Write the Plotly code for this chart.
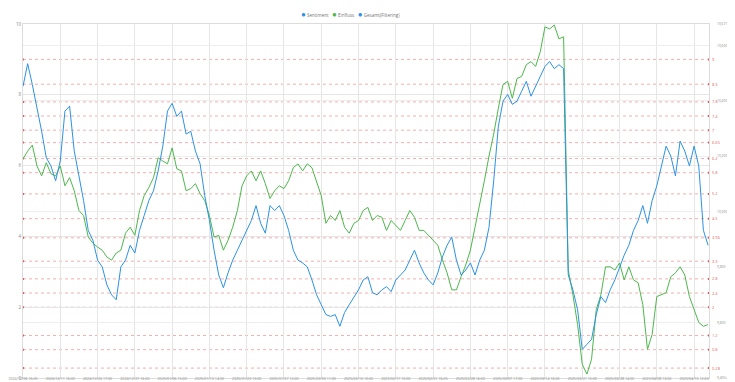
import plotly.graph_objects as go

tick_labels = ["2024/12/06 16:05", "2024/12/11 16:00", "2024/12/20 17:00", "2024/12/27 16:00",
               "2025/01/06 15:00", "2025/01/13 14:00", "2025/01/20 13:00", "2025/01/27 12:00",
               "2025/02/03 11:00", "2025/02/10 10:00", "2025/02/17 10:00", "2025/02/21 16:05",
               "2025/02/28 16:00", "2025/03/07 17:00", "2025/03/14 16:00", "2025/03/21 15:00",
               "2025/03/28 14:00", "2025/04/08 13:00", "2025/04/15 12:00"]
points_per_tick = 8

sentiment = [8.24, 8.88, 8.29, 7.68, 6.97, 6.22, 5.99, 5.57, 6.13, 7.54, 7.68, 6.41, 5.71, 5.01, 4.17, 3.89,
             3.33, 3.14, 2.63, 2.35, 2.21, 3.14, 3.33, 3.75, 3.53, 4.17, 4.59, 5.01, 5.29, 5.85, 6.55, 7.54,
             7.76, 7.39, 7.54, 6.89, 6.97, 6.41, 6.05, 5.15, 4.45, 3.61, 2.91, 2.55, 2.97, 3.33, 3.61, 3.89,
             4.17, 4.45, 4.87, 4.37, 4.09, 4.87, 4.73, 4.87, 4.59, 4.17, 3.61, 3.33, 3.25, 3.14, 2.77, 2.35,
             2.07, 1.79, 1.74, 1.79, 1.46, 1.85, 2.07, 2.30, 2.49, 2.77, 2.86, 2.41, 2.35, 2.49, 2.58, 2.44,
             2.77, 2.91, 3.05, 3.33, 3.61, 3.25, 2.97, 2.77, 2.63, 2.97, 3.42, 3.75, 3.98, 3.33, 2.91, 3.05,
             3.25, 2.91, 3.33, 3.61, 4.26, 5.57, 7.11, 7.82, 8.01, 7.73, 7.82, 8.10, 8.38, 7.96, 8.24, 8.52,
             8.80, 8.94, 8.74, 8.85, 8.74, 2.91, 2.49, 1.93, 0.81, 0.95, 1.09, 1.79, 2.30, 2.13, 2.49, 2.77,
             3.14, 3.47, 3.75, 4.17, 4.45, 4.87, 4.37, 5.01, 5.43, 5.99, 6.55, 6.27, 5.71, 6.69, 6.41, 5.99,
             6.55, 5.99, 4.17, 3.75]

einfluss = [6.19, 6.41, 6.58, 5.99, 5.71, 6.08, 5.77, 5.71, 5.99, 5.43, 5.66, 5.29, 4.73, 4.59, 3.98, 3.81,
            3.70, 3.61, 3.42, 3.33, 3.53, 3.61, 4.09, 4.26, 4.03, 4.73, 5.15, 5.38, 5.66, 6.22, 6.13, 6.05,
            6.50, 5.91, 5.85, 5.29, 5.35, 5.49, 5.21, 5.01, 4.59, 3.98, 4.03, 3.61, 3.89, 4.26, 4.73, 5.43,
            5.71, 5.85, 5.57, 5.85, 5.49, 5.07, 5.29, 5.43, 5.35, 5.57, 5.94, 6.05, 5.85, 6.05, 5.94, 5.57,
            5.15, 4.37, 4.59, 4.45, 4.73, 4.26, 4.09, 4.37, 4.45, 4.73, 4.82, 4.45, 4.59, 4.54, 4.17, 4.45,
            4.31, 4.17, 4.45, 4.73, 4.54, 4.17, 4.17, 4.03, 3.89, 3.75, 3.33, 2.97, 2.49, 2.49, 2.86, 3.19,
            3.61, 4.26, 4.82, 5.57, 6.27, 6.89, 7.62, 8.29, 8.38, 7.90, 8.46, 8.52, 8.85, 8.94, 8.80, 9.22,
            9.92, 9.86, 9.97, 9.58, 9.64, 3.05, 2.35, 1.51, 0.39, 0.11, 0.53, 1.93, 2.35, 3.14, 3.14, 3.05,
            3.25, 2.77, 3.14, 2.77, 2.69, 2.07, 0.81, 1.23, 2.30, 2.35, 2.41, 2.86, 2.97, 3.14, 2.91, 2.30,
            1.93, 1.57, 1.46, 1.51]

level_values = [9, 8.3, 7.8, 7.4, 7, 6.65, 6.2, 5.8, 5.2, 4.5, 3.96, 3.3, 2.8, 2.4, 2, 1.2, 0.8, 0.28]
level_labels = ["9", "8.3", "7.8", "7.4", "7", "6.65", "6.2", "5.8", "5.2", "4.5", "3.96", "3.3",
                "2.8", "2.4", "2", "1.2", "0.8", "0.28"]

price_range = [9400.4, 10677.08]
price_ticks = [9400.4, 9600, 9800, 10000, 10200, 10400, 10600, 10677.08]
price_text = ["9,400.4", "9,600", "9,800", "10,000", "10,200", "10,400", "10,600", "10,677.08"]

legend_names = ["Sentiment", "Einfluss", "Gesamt(Filtering)"]
BLUE = "#2b93e3"
GREEN = "#4cb84c"
RED = "rgba(232,110,110,0.55)"
legend_colors = [BLUE, GREEN, BLUE]

n = len(sentiment)
x = list(range(n))
x_max = 147.2
tickvals = [i * points_per_tick for i in range(len(tick_labels))]

fig = go.Figure()

for v in level_values:
    fig.add_shape(type="line", xref="x", yref="y", x0=0, x1=x_max, y0=v, y1=v,
                  line=dict(color=RED, width=1, dash="dot"), layer="below")
fig.add_trace(go.Scatter(
    x=[0] * len(level_values) + [x_max] * len(level_values),
    y=level_values + level_values, mode="markers",
    marker=dict(symbol="square", size=2, color="rgba(220,70,70,0.85)"),
    cliponaxis=False, showlegend=False, hoverinfo="skip"))

fig.add_trace(go.Scatter(x=x, y=einfluss, mode="lines", name=legend_names[1],
                         line=dict(color=GREEN, width=1), showlegend=False))
fig.add_trace(go.Scatter(x=x, y=sentiment, mode="lines", name=legend_names[0],
                         line=dict(color=BLUE, width=1), showlegend=False))
fig.add_trace(go.Scatter(x=[None], y=[None], yaxis="y2", mode="lines", name=legend_names[2],
                         line=dict(color=BLUE, width=1), showlegend=False))

for v, t in zip(level_values, level_labels):
    fig.add_annotation(xref="paper", x=1, xanchor="left", xshift=1, y=v, yref="y",
                       text=t, showarrow=False, font=dict(size=4, color="rgba(220,70,70,0.95)"))

legend_html = "&nbsp;&nbsp;&nbsp;".join(
    f"<span style='color:{c};font-size:8px'>●</span> {nm}" for nm, c in zip(legend_names, legend_colors))
fig.add_annotation(xref="paper", yref="paper", x=0.477, y=1, yshift=11, xanchor="center",
                   yanchor="middle", text=legend_html, showarrow=False,
                   font=dict(size=4.5, color="#777"))

fig.update_layout(
    width=735, height=382,
    margin=dict(l=15, r=34, t=16, b=12),
    paper_bgcolor="white", plot_bgcolor="white",
    font=dict(family="Open Sans, sans-serif", size=5, color="#888"),
    showlegend=False,
    xaxis=dict(range=[0, x_max], tickmode="array", tickvals=tickvals, ticktext=tick_labels,
               showgrid=True, gridcolor="#e6e6e6", gridwidth=1, zeroline=False,
               showline=True, linecolor="#dcdcdc", mirror=True, ticks="", tickangle=0,
               ticklabelstandoff=-3,
               automargin=False, tickfont=dict(size=3.6, color="#888")),
    yaxis=dict(range=[0, 10], dtick=2, showgrid=True, gridcolor="#e6e6e6", zeroline=False,
               showline=True, linecolor="#dcdcdc", mirror=True, ticks="", automargin=False,
               tickfont=dict(size=4.5, color="#888")),
    yaxis2=dict(range=price_range, overlaying="y", side="right", tickmode="array",
                tickvals=price_ticks, ticktext=price_text, showgrid=True, gridcolor="#eeeeee",
                zeroline=False, ticks="", ticklabelstandoff=7,
                automargin=False, tickfont=dict(size=3.3, color="#888")),
)

fig.write_html("out.html")
